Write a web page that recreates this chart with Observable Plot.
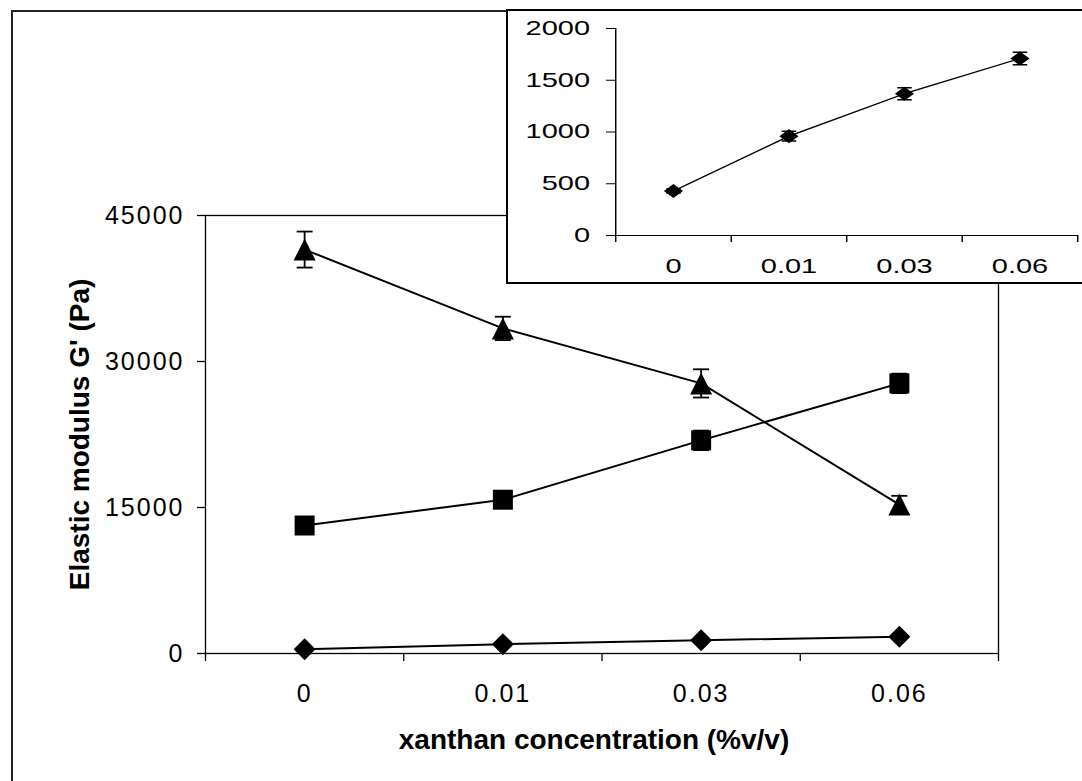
<!DOCTYPE html>
<html><head><meta charset="utf-8">
<script src="https://cdn.jsdelivr.net/npm/d3@7"></script>
<script src="https://cdn.jsdelivr.net/npm/@observablehq/plot@0.6"></script>
<style>
html,body{margin:0;padding:0;background:#fff;overflow:hidden;width:1082px;height:781px;}
#wrap{position:relative;width:1082px;height:781px;overflow:hidden;background:#fff;}
#main{position:absolute;left:0;top:0;}
#outer{position:absolute;left:11px;top:10px;width:1200px;height:900px;border-left:2px solid #222;border-top:2px solid #222;pointer-events:none;}
#inset{position:absolute;left:506px;top:9px;width:590px;height:271px;border:2px solid #000;background:#fff;overflow:hidden;}
#inset svg{transform:scaleX(1.45);transform-origin:0 0;}
svg text{font-family:"Liberation Sans",Arial,sans-serif;}
#main [aria-label="y-axis tick label"], #main [aria-label="x-axis tick label"]{letter-spacing:2px;font-size:25px;}
#inset [aria-label="y-axis tick label"], #inset [aria-label="x-axis tick label"]{font-size:20px;}
</style></head><body>
<div id="wrap"><div id="main"></div><div id="outer"></div><div id="inset"></div></div>
<script>
const categories = ["0", "0.01", "0.03", "0.06"];
const triangleValues = [41500, 33400, 27750, 15300];
const triangleErrors = [1850, 1200, 1450, 900];
const squareValues = [13150, 15800, 21900, 27750];
const squareErrors = [300, 400, 1000, 1000];
const diamondValues = [430, 960, 1370, 1710];
const diamondErrors = [20, 48, 58, 60];
const mainYTicks = [0, 15000, 30000, 45000];
const insetYTicks = [0, 500, 1000, 1500, 2000];
const xTitle = "xanthan concentration (%v/v)";
const yTitle = "Elastic modulus G' (Pa)";

function rowsOf(series, values, errors) {
  return categories.map((c, i) => ({series, cat: c, i, value: values[i], err: errors[i]}));
}
const triRows = rowsOf("triangle", triangleValues, triangleErrors);
const sqRows = rowsOf("square", squareValues, squareErrors);
const diaRows = rowsOf("diamond", diamondValues, diamondErrors);
const allRows = [...diaRows, ...sqRows, ...triRows];

function shape(kind, ay = 1) {
  return {draw(ctx, size) {
    const w = Math.sqrt(size / Math.PI), h = w * ay;
    if (kind === "diamond") { ctx.moveTo(0, -h); ctx.lineTo(w, 0); ctx.lineTo(0, h); ctx.lineTo(-w, 0); ctx.closePath(); }
    else if (kind === "square") { ctx.rect(-w, -h, 2 * w, 2 * h); }
    else if (kind === "triangle") { ctx.moveTo(0, -h); ctx.lineTo(w, h); ctx.lineTo(-w, h); ctx.closePath(); }
    else if (kind === "cap") { ctx.moveTo(-w, 0); ctx.lineTo(w, 0); }
  }};
}
const capSym = shape("cap");
const triSym = shape("triangle");
const sqSym = shape("square");
const diaSym = shape("diamond");

const boundaries = d3.range(categories.length + 1).map(k => k - 0.5);
const centers = categories.map((c, i) => i);

const main = Plot.plot({
  width: 1082, height: 781,
  marginLeft: 205, marginRight: 84, marginTop: 215, marginBottom: 128,
  style: {background: "transparent", color: "#000", fontFamily: "Liberation Sans, Arial, sans-serif"},
  x: {type: "linear", domain: [-0.5, categories.length - 0.5]},
  y: {domain: [0, 45000]},
  marks: [
    Plot.frame({stroke: "#000", strokeWidth: 1.3}),
    Plot.axisY({ticks: mainYTicks, tickSize: 8, tickPadding: 13, tickFormat: d => String(d), fontSize: 25, label: null, strokeWidth: 1.3}),
    Plot.axisX({ticks: boundaries, tickSize: 8, tickFormat: () => "", label: null, strokeWidth: 1.3, ariaLabel: "x-boundary"}),
    Plot.axisX({ticks: centers, tickSize: 0, tickPadding: 31, tickFormat: i => categories[i], fontSize: 25, label: null}),
    Plot.line(allRows, {x: "i", y: "value", z: "series", stroke: "#000", strokeWidth: 2}),
    Plot.ruleX(allRows, {x: "i", y1: d => d.value - d.err, y2: d => d.value + d.err, stroke: "#000", strokeWidth: 1.8}),
    Plot.dot(allRows, {x: "i", y: d => d.value + d.err, symbol: capSym, r: 8, stroke: "#000", strokeWidth: 1.8, fill: "none"}),
    Plot.dot(allRows, {x: "i", y: d => d.value - d.err, symbol: capSym, r: 8, stroke: "#000", strokeWidth: 1.8, fill: "none"}),
    Plot.dot(diaRows, {x: "i", y: "value", symbol: diaSym, r: 11, fill: "#000", stroke: "none"}),
    Plot.dot(sqRows, {x: "i", y: "value", symbol: sqSym, r: 10, fill: "#000", stroke: "none"}),
    Plot.dot(triRows, {x: "i", y: "value", symbol: triSym, r: 11, fill: "#000", stroke: "none"}),
    Plot.text([yTitle], {text: d => d, frameAnchor: "left", textAnchor: "middle", dx: -125, rotate: -90, fontSize: 28, fontWeight: "bold", fill: "#000"}),
    Plot.text([xTitle], {text: d => d, frameAnchor: "bottom", textAnchor: "middle", dy: 95, dx: -8, fontSize: 28, fontWeight: "bold", fill: "#000"})
  ]
});
document.getElementById("main").appendChild(main);

const K = 1.45;
const inset = Plot.plot({
  width: 590 / K, height: 271,
  marginLeft: 107 / K, marginRight: 590 / K - 569 / K, marginTop: 17, marginBottom: 47,
  style: {background: "#fff", color: "#000", fontFamily: "Liberation Sans, Arial, sans-serif"},
  x: {type: "linear", domain: [-0.5, categories.length - 0.5]},
  y: {domain: [0, 2000]},
  marks: [
    Plot.ruleX([-0.5], {stroke: "#000", strokeWidth: 1}),
    Plot.ruleY([0], {stroke: "#000", strokeWidth: 1.2}),
    Plot.axisY({ticks: insetYTicks, tickSize: 6.2, tickPadding: 11.5, tickFormat: d => String(d), fontSize: 20, label: null}),
    Plot.axisX({ticks: boundaries, tickSize: 7, tickFormat: () => "", label: null}),
    Plot.axisX({ticks: centers, tickSize: 0, tickPadding: 23, tickFormat: i => categories[i], fontSize: 20, label: null}),
    Plot.line(diaRows, {x: "i", y: "value", stroke: "#000", strokeWidth: 1.3}),
    Plot.ruleX(diaRows, {x: "i", y1: d => d.value - d.err, y2: d => d.value + d.err, stroke: "#000", strokeWidth: 1.3}),
    Plot.dot(diaRows, {x: "i", y: d => d.value + d.err, symbol: capSym, r: 5, stroke: "#000", strokeWidth: 1.5, fill: "none"}),
    Plot.dot(diaRows, {x: "i", y: d => d.value - d.err, symbol: capSym, r: 5, stroke: "#000", strokeWidth: 1.5, fill: "none"}),
    Plot.dot(diaRows, {x: "i", y: "value", symbol: shape("diamond", 1.07), r: 6.6, fill: "#000", stroke: "none"})
  ]
});
document.getElementById("inset").appendChild(inset);
</script>
</body></html>
